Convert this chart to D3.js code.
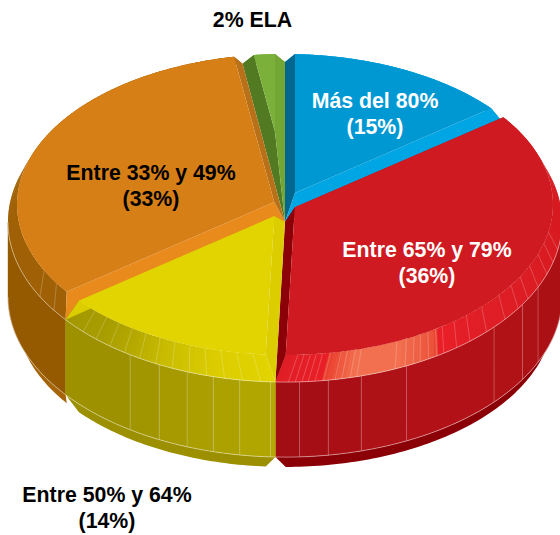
<!DOCTYPE html>
<html><head><meta charset="utf-8">
<script src="https://cdn.jsdelivr.net/npm/d3@7"></script>
<style>html,body{margin:0;padding:0;background:#fff}svg{display:block}text{font-family:"Liberation Sans",Arial,sans-serif;font-weight:700;font-size:21.3px;text-anchor:middle}</style>
</head><body><svg id="c" width="560" height="535"></svg>
<script>
// DATA (unrounded shares consistent with the rounded labels)
const categories = ["Más del 80%","Entre 65% y 79%","Entre 50% y 64%","Entre 33% y 49%","ELA"];
const shares = [14.55, 36, 14, 33, 2.45];

// STYLES
const faceColors  = ["#0098d3","#cf1a21","#e2d400","#d77f17","#7bb03a"];
const startBevel  = ["#00678f","#a80f14","#dccd00","#e98a1c","#527a22"];
const endBevel    = ["#00a5e3","#8c0007","#dccd00","#b87019","#74a636"];
const lipColors   = ["#00678f","#8a0006","#9c8f00","#a66408","#527a22"];
const bevelStops = [
  {d:[0,360],c:["#00a5e3","#00a5e3"]},
  {d:[90,135,146.5,147,156,166,171.9,172,182],c:["#d61b20","#e01e26","#ea1f27","#ea5038","#f2704f","#f2704f","#e9402f","#ea1f27","#e01e26"]},
  {d:[182,195,206,214,222,232],c:["#e2d400","#dacc00","#c9bc00","#b5a900","#a89d00","#a39800"]},
  {d:[232,270,360],c:["#a06106","#a06106","#a06106"]},
  {d:[0,360],c:["#7bb03a","#7bb03a"]}
];
const wallStops = [
  {d:[0,360],c:["#00678f","#00678f"]},
  {d:[90,125,150,182],c:["#a80f14","#b01216","#b31217","#a20d14"]},
  {d:[182,214,232],c:["#b4a800","#9f9300","#9c8f00"]},
  {d:[232,270,360],c:["#955a00","#955a00","#955a00"]},
  {d:[0,360],c:["#527a22","#527a22"]}
];
const wallLines = [[],[114,121,131,154,164,171,177],[183,189.4,195,200.7,207,214],[],[]];
const bevelLines = [[],
  [100,104.6,109,114,118.7,122.7,127.4,133.3,138.1,141.7,145,146.8,148.8,150.8,152.4,154.3,156.6,165,166.4,168.2,169.6,172,173.8,175.2,176.5,177.9,179.3],
  [185,188.8,192.6,196.4,200.2,204,207.8,211.6,215.4,219.2,223,226.8],
  [236.5,242.2],[]];
const paintOrder = [4,3,0,1,2];
const labels = [
  {t:["2% ELA"],x:252.5,y:27,c:"#000"},
  {t:["Más del 80%","(15%)"],x:375,y:108,c:"#fff"},
  {t:["Entre 33% y 49%","(33%)"],x:151,y:179.5,c:"#000"},
  {t:["Entre 65% y 79%","(36%)"],x:427,y:256.5,c:"#fff"},
  {t:["Entre 50% y 64%","(14%)"],x:107,y:501.5,c:"#000"}
];

// GEOMETRY
const cx=285, R=277, rFace=268, inset=10, rad=Math.PI/180;
const lv={face:{cy:204.5,k:.5616},base:{cy:222,k:.578},bot:{cy:297,k:.578},lip:{cy:315,k:.567}};
const P=(a,r,l)=>[cx+r*Math.sin(a), l.cy-r*Math.cos(a)*l.k];
const arc=(a0,a1,r,l)=>{const n=Math.max(1,Math.ceil(Math.abs(a1-a0)/rad));return d3.range(n+1).map(i=>P(a0+(a1-a0)*i/n,r,l));};
const line=d3.line().curve(d3.curveLinear);
const poly=pts=>line(pts)+"Z";
const svg=d3.select("#c");
const arcs=d3.pie().sort(null).value(d=>d).startAngle(0).endAngle(2*Math.PI)(shares);
const delta=Math.asin(inset/rFace);
const pale="rgba(255,255,255,.5)";

function draw(i){
  const g=svg.append("g"), A=arcs[i], a0=A.startAngle, a1=A.endAngle;
  const mid=(a0+a1)/2, apexDist=inset/Math.sin((a1-a0)/2);
  const apex=P(mid,apexDist,lv.face), hub=P(0,0,lv.base);
  const fa0=a0+delta, fa1=a1-delta;
  const bevelC=d3.scaleLinear().domain(bevelStops[i].d).range(bevelStops[i].c).clamp(true);
  const wallC=d3.scaleLinear().domain(wallStops[i].d).range(wallStops[i].c).clamp(true);
  const w0=Math.max(a0,90*rad), w1=Math.min(a1,270*rad);
  if(w1>w0){
    const l0=Math.max(fa0,90*rad), l1=Math.min(fa1,270*rad);
    // lip under the wall
    g.append("path").attr("d",poly(arc(w0,w1,R,lv.bot).concat(arc(l1,l0,rFace,lv.lip))))
      .attr("fill",lipColors[i]);
    // wall facets
    const ds=[w0/rad,...wallLines[i],w1/rad];
    ds.slice(1).forEach((d,j)=>{
      const s=ds[j]*rad,e=d*rad,m=(ds[j]+d)/2;
      const c=wallC(m);
      g.append("path").attr("d",poly(arc(s,e,R,lv.base).concat(arc(e,s,R,lv.bot))))
       .attr("fill",c).attr("stroke",c).attr("stroke-width",.4);
    });
    wallLines[i].forEach(d=>{
      g.append("path").attr("d",line([P(d*rad,R,lv.base),P(d*rad,R,lv.bot)]))
       .attr("stroke","rgba(255,255,255,.3)").attr("fill","none").attr("stroke-width",.8);
    });
    g.append("path").attr("d",line(arc(w0,w1,R,lv.bot))).attr("fill","none").attr("stroke",pale).attr("stroke-width",.9);
  }
  // outer bevel strip: painted as one quad per degree, overlapping so no seams show
  const dsb=[];
  for(let d=a0/rad;d<a1/rad;d+=1)dsb.push(d);
  dsb.push(a1/rad);
  const f=d3.scaleLinear().domain([a0,a1]).range([fa0,fa1]);
  dsb.slice(1).forEach((d,j)=>{
    const s=dsb[j]*rad,e=Math.min(a1,(d+.6)*rad),c=bevelC((dsb[j]+d)/2);
    g.append("path").attr("d",poly(arc(s,e,R,lv.base).concat(arc(f(e),f(s),rFace,lv.face))))
     .attr("fill",c);
  });
  bevelLines[i].forEach(d=>{
    const s=d*rad;
    g.append("path").attr("d",line([P(s,R,lv.base),P(f(s),rFace,lv.face)]))
     .attr("stroke","rgba(255,255,255,.3)").attr("fill","none").attr("stroke-width",.7);
  });
  if(w1>w0) g.append("path").attr("d",line(arc(w0,w1,R,lv.base))).attr("fill","none").attr("stroke",pale).attr("stroke-width",.9);
  // radial bevels
  g.append("path").attr("d",poly([hub,P(a0,R,lv.base),P(fa0,rFace,lv.face),apex])).attr("fill",startBevel[i]);
  g.append("path").attr("d",poly([hub,P(a1,R,lv.base),P(fa1,rFace,lv.face),apex])).attr("fill",endBevel[i]);
  // top face
  g.append("path").attr("d",poly([apex].concat(arc(fa0,fa1,rFace,lv.face)))).attr("fill",faceColors[i]);
}
paintOrder.forEach(draw);

labels.forEach(l=>{
  const t=svg.append("text").attr("fill",l.c);
  l.t.forEach((s,j)=>t.append("tspan").attr("x",l.x).attr("y",l.y+j*26).text(s));
});
</script></body></html>
